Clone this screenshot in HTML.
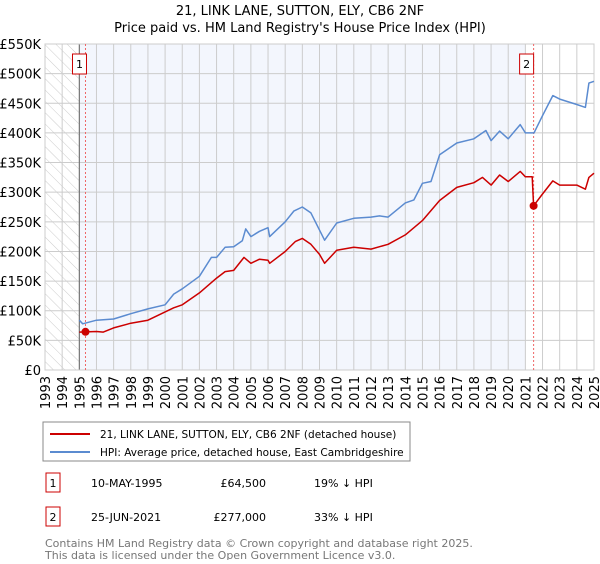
<!DOCTYPE html>
<html><head><meta charset="utf-8"><style>
body{margin:0;background:#fff;font-family:"DejaVu Sans","Liberation Sans",sans-serif;}
svg text{font-family:"DejaVu Sans","Liberation Sans",sans-serif;}
</style></head><body>
<svg id="c" width="600" height="560" viewBox="0 0 600 560">
<defs><pattern id="hatch" width="8" height="8" patternUnits="userSpaceOnUse" patternTransform="rotate(-45)"><line x1="0" y1="0" x2="0" y2="8" stroke="#ccc" stroke-width="1"/></pattern></defs>
<text x="300" y="15" text-anchor="middle" font-size="13">21, LINK LANE, SUTTON, ELY, CB6 2NF</text>
<text x="300" y="32" text-anchor="middle" font-size="13">Price paid vs. HM Land Registry's House Price Index (HPI)</text>
<g id="plot"></g>
<rect x="43" y="422" width="367" height="39" fill="#fff" stroke="#888"/>
<line x1="50" y1="434" x2="90" y2="434" stroke="#cc0000" stroke-width="2"/>
<text x="100" y="438" font-size="10.5">21, LINK LANE, SUTTON, ELY, CB6 2NF (detached house)</text>
<line x1="50" y1="452" x2="90" y2="452" stroke="#5b8bd0" stroke-width="2"/>
<text x="100" y="456" font-size="10.5">HPI: Average price, detached house, East Cambridgeshire</text>
<g>
<rect x="46" y="473" width="14" height="19" fill="#fff" stroke="#cc0000"/>
<text x="53" y="487" text-anchor="middle" font-size="11">1</text>
<text x="91" y="487" font-size="11">10-MAY-1995</text>
<text x="266" y="487" text-anchor="end" font-size="11">£64,500</text>
<text x="314" y="487" font-size="11">19% ↓ HPI</text></g>
<g>
<rect x="46" y="507" width="14" height="19" fill="#fff" stroke="#cc0000"/>
<text x="53" y="521" text-anchor="middle" font-size="11">2</text>
<text x="91" y="521" font-size="11">25-JUN-2021</text>
<text x="266" y="521" text-anchor="end" font-size="11">£277,000</text>
<text x="314" y="521" font-size="11">33% ↓ HPI</text></g>
<text x="45" y="547" font-size="11" fill="#777">Contains HM Land Registry data © Crown copyright and database right 2025.</text>
<text x="45" y="559" font-size="11" fill="#777">This data is licensed under the Open Government Licence v3.0.</text>
</svg>
<script>
const hpiYears=[1995,1995.2,1996,1997,1998,1999,2000,2000.5,2001,2002,2002.7,2003,2003.5,2004,2004.5,2004.7,2005,2005.5,2006,2006.1,2007,2007.5,2008,2008.5,2009,2009.3,2010,2011,2012,2012.5,2013,2014,2014.5,2015,2015.5,2016,2017,2018,2018.7,2019,2019.5,2020,2020.7,2021,2021.5,2022,2022.6,2023,2024,2024.5,2024.7,2025];
const hpiValues=[84,78,84,86,95,103,110,128,137,158,190,190,207,208,218,238,225,234,240,225,250,268,275,265,236,219,248,256,258,260,258,282,287,315,318,363,383,390,404,387,403,390,414,400,400,429,463,457,448,443,484,487];
const priceYears=[1995,1996,1996.4,1997,1998,1999,2000,2000.5,2001,2002,2003,2003.5,2004,2004.6,2005,2005.5,2006,2006.1,2007,2007.6,2008,2008.5,2009,2009.3,2010,2011,2012,2013,2014,2015,2016,2017,2018,2018.5,2019,2019.5,2020,2020.7,2021,2021.4,2021.48,2022,2022.6,2023,2024,2024.5,2024.7,2025];
const priceValues=[64,65,64,71,79,84,98,105,110,130,155,166,168,190,180,187,185,180,200,217,222,212,195,180,202,207,204,212,228,252,286,308,316,325,312,329,318,335,326,326,277,297,319,312,312,305,325,332];
const saleYears=[1995.36,2021.48];
const saleValues=[64.5,277];
const yTicks=[0,50,100,150,200,250,300,350,400,450,500,550];
const yTickLabels=["£0","£50K","£100K","£150K","£200K","£250K","£300K","£350K","£400K","£450K","£500K","£550K"];
const xTicks=[1993,1994,1995,1996,1997,1998,1999,2000,2001,2002,2003,2004,2005,2006,2007,2008,2009,2010,2011,2012,2013,2014,2015,2016,2017,2018,2019,2020,2021,2022,2023,2024,2025];
const X0=45,X1=594,Y0=370,Y1=44;
const xs=y=>X0+(y-1993)/32*(X1-X0);
const ys=v=>Y0-v/550*(Y0-Y1);
const g=document.getElementById('plot');const NS='http://www.w3.org/2000/svg';
function mk(t,a,p){const e=document.createElementNS(NS,t);for(const k in a)e.setAttribute(k,a[k]);(p||g).appendChild(e);return e;}
let e;
e=mk('rect',{x:X0,y:Y1,width:X1-X0,height:Y0-Y1,fill:'#fff'});
e=mk('rect',{x:xs(1995),y:Y1,width:xs(2021)-xs(1995),height:Y0-Y1,fill:'#f3f6fd'});


e=mk('rect',{x:X0,y:Y1,width:xs(1995)-X0,height:Y0-Y1,fill:'url(#hatch)'});


yTicks.forEach((v,i)=>{
 e=mk('line',{x1:X0,x2:X1,y1:ys(v),y2:ys(v),stroke:'#ccc'});
 
 
 e=mk('text',{x:X0-4,y:ys(v)+5,'text-anchor':'end','font-size':13});e.textContent=yTickLabels[i];
 
 
});
xTicks.forEach(y=>{
 e=mk('line',{x1:xs(y),x2:xs(y),y1:Y1,y2:Y0,stroke:'#ccc'});
 
 
 e=mk('text',{x:0,y:0,'text-anchor':'end','font-size':13,transform:`translate(${xs(y)+5},${Y0+6}) rotate(-90)`});e.textContent=y;
 
 
});
e=mk('line',{x1:xs(1995),x2:xs(1995),y1:Y1,y2:Y0,stroke:'#666'});


e=mk('rect',{x:X0,y:Y1,width:X1-X0,height:Y0-Y1,fill:'none',stroke:'#ccc'});


saleYears.forEach((y,i)=>{
 e=mk('line',{x1:xs(y),x2:xs(y),y1:Y1,y2:Y0,stroke:'#e66','stroke-dasharray':'2,2'});
 
 
});
function path(xa,va,col,name){
 const d=xa.map((y,i)=>(i?'L':'M')+xs(y).toFixed(1)+','+ys(va[i]).toFixed(1)).join('');
 e=mk('path',{d:d,fill:'none',stroke:col,'stroke-width':1.5,'stroke-linejoin':'round'});
 
 
}
path(hpiYears,hpiValues,'#5b8bd0','hpi-line');
path(priceYears,priceValues,'#cc0000','price-line');
saleYears.forEach((y,i)=>{
 e=mk('circle',{cx:xs(y),cy:ys(saleValues[i]),r:4,fill:'#cc0000'});
 
 
 const bx=xs(y)-13+(i?-1:0);
 e=mk('rect',{x:bx,y:54,width:14,height:20,fill:'#fff',stroke:'#cc0000'});
 
 
 e=mk('text',{x:bx+7,y:68,'text-anchor':'middle','font-size':11});e.textContent=String(i+1);
 
 
});
</script>
</body></html>
